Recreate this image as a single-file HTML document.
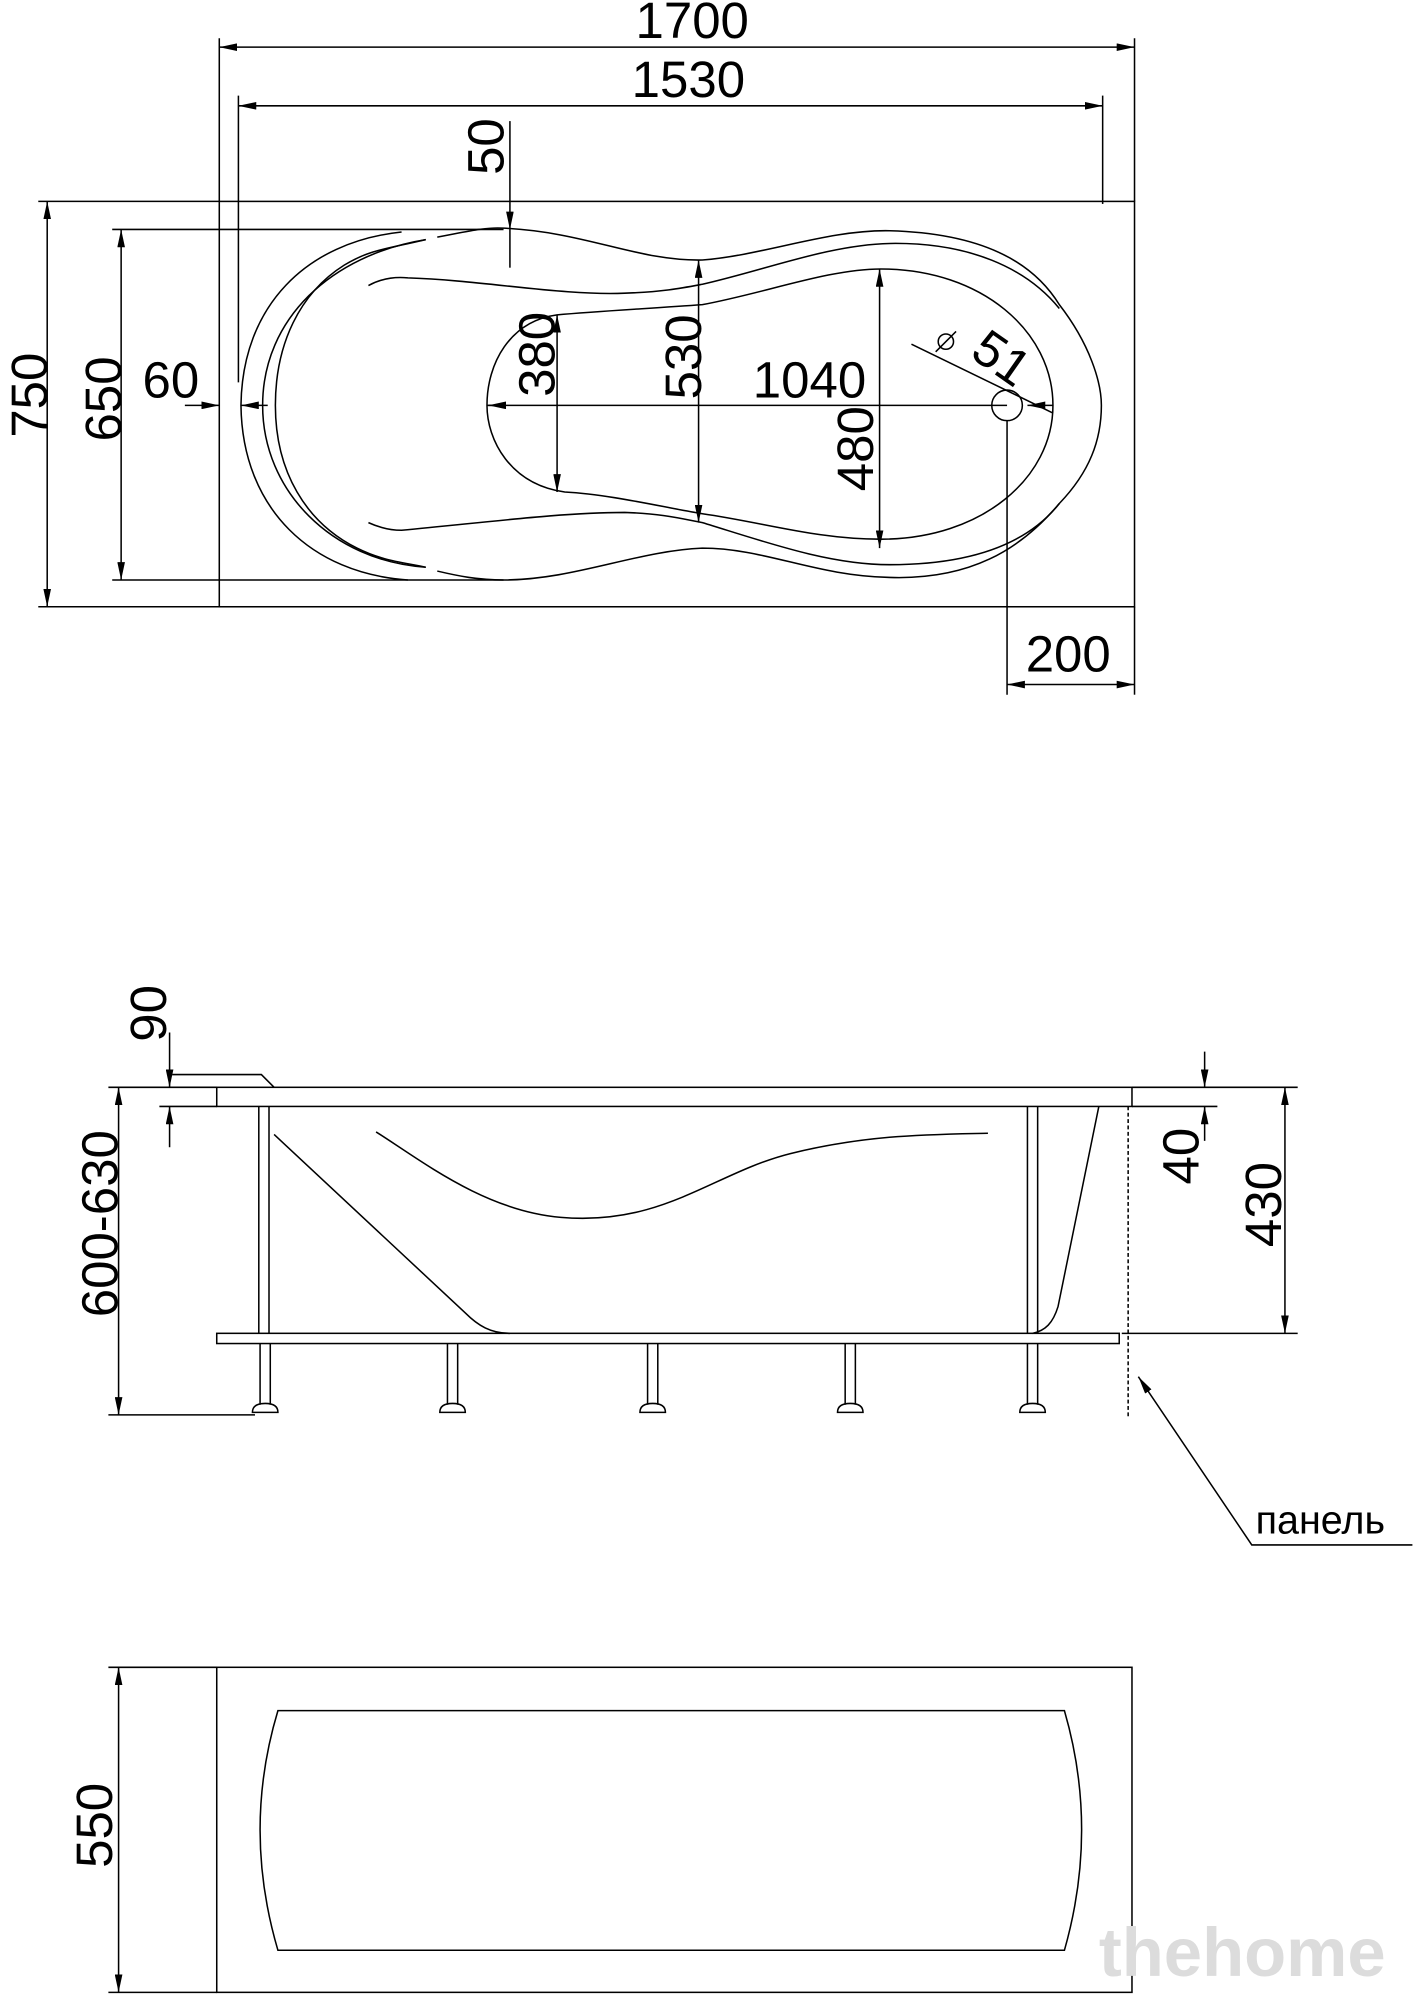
<!DOCTYPE html>
<html><head><meta charset="utf-8"><style>html,body{margin:0;padding:0;background:#fff}svg{display:block}text{font-family:"Liberation Sans",sans-serif;fill:#000}</style></head>
<body>
<svg width="1415" height="2000" viewBox="0 0 1110 1569" xmlns="http://www.w3.org/2000/svg">
<defs>
<marker id="a" viewBox="0 0 14 6" refX="14" refY="3" markerWidth="14" markerHeight="6" orient="auto-start-reverse" markerUnits="userSpaceOnUse"><path d="M0,0 L14,3 L0,6 Z" fill="#000"/></marker>
</defs>
<g stroke="#000" stroke-width="1.2" fill="none">
<rect x="172" y="158" width="718" height="318"/>
<line x1="172" y1="30" x2="172" y2="158"/><line x1="890" y1="30" x2="890" y2="158"/>
<line x1="172" y1="37" x2="890" y2="37" marker-start="url(#a)" marker-end="url(#a)"/>
<line x1="187" y1="75" x2="187" y2="300"/><line x1="865" y1="75" x2="865" y2="160"/>
<line x1="187" y1="83" x2="865" y2="83" marker-start="url(#a)" marker-end="url(#a)"/>
<line x1="30" y1="158" x2="172" y2="158"/><line x1="30" y1="476" x2="172" y2="476"/>
<line x1="37" y1="158" x2="37" y2="476" marker-start="url(#a)" marker-end="url(#a)"/>
<line x1="88" y1="180" x2="395" y2="180"/><line x1="88" y1="455" x2="395" y2="455"/>
<line x1="95" y1="180" x2="95" y2="455" marker-start="url(#a)" marker-end="url(#a)"/>
<line x1="400" y1="95" x2="400" y2="180" marker-end="url(#a)"/>
<line x1="400" y1="210" x2="400" y2="180"/>
<line x1="145" y1="318" x2="172" y2="318" marker-end="url(#a)"/>
<line x1="210" y1="318" x2="189" y2="318" marker-end="url(#a)"/>
<path d="M343,186 C365,182 380,178 395,179 C460,182 500,205 551,204 C600,200 650,180 698,181 C770,183 810,205 831,239 C855,270 864,300 864,318 C864,345 855,370 831,395 C800,432 760,455 698,453 C640,452 600,430 551,430 C500,432 450,455 395,455 C375,455 360,452 343,448"/>
<path d="M315,182 C240,190 190,240 189,318 C190,400 245,450 320,455"/>
<path d="M334,188 C260,200 206,250 206,318 C206,385 260,440 334,445"/>
<path d="M334,188 C300,196 290,196 270,208 C235,230 216,270 216,318 C216,370 240,410 280,430 C300,440 315,441 334,445"/>
<path d="M289,224 C300,218 310,217 320,218 C380,220 440,232 490,230 C520,229 535,226 551,223 C600,212 650,192 698,191 C760,190 805,210 831,242"/>
<path d="M289,410 C300,415 308,416 315,416 C380,410 440,402 490,402 C520,403 535,407 551,410 C600,425 650,443 698,443 C760,443 805,428 831,395"/>
<path d="M437,247 C470,244 510,242 551,239 C600,230 650,211 691,211 C770,211 826,260 826,318 C826,375 770,423 691,423 C640,423 600,410 551,403 C520,398 480,388 443,386 C400,380 382,345 382,318 C382,285 400,252 437,247 Z"/>
<line x1="382" y1="318" x2="790" y2="318"/>
<line x1="396" y1="318" x2="383" y2="318" marker-end="url(#a)"/>
<line x1="437" y1="247" x2="437" y2="386" marker-start="url(#a)" marker-end="url(#a)"/>
<line x1="548" y1="204" x2="548" y2="410" marker-start="url(#a)" marker-end="url(#a)"/>
<line x1="690" y1="211" x2="690" y2="430" marker-start="url(#a)" marker-end="url(#a)"/>
<circle cx="790" cy="318" r="12"/>
<line x1="715" y1="270" x2="826" y2="324"/>
<line x1="806" y1="318" x2="826" y2="318" marker-start="url(#a)"/>
<line x1="790" y1="330" x2="790" y2="545"/>
<line x1="890" y1="476" x2="890" y2="545"/>
<line x1="790" y1="537" x2="890" y2="537" marker-start="url(#a)" marker-end="url(#a)"/>
<circle cx="742" cy="268" r="6"/><line x1="734" y1="276" x2="750" y2="260"/>

<rect x="170" y="853" width="718" height="15"/>
<path d="M135,843 L205,843 L215,853"/>
<line x1="85" y1="853" x2="170" y2="853"/>
<line x1="125" y1="868" x2="170" y2="868"/>
<line x1="133" y1="810" x2="133" y2="853" marker-end="url(#a)"/>
<line x1="133" y1="900" x2="133" y2="868" marker-end="url(#a)"/>
<line x1="93" y1="853" x2="93" y2="1110" marker-start="url(#a)" marker-end="url(#a)"/>
<line x1="85" y1="1110" x2="200" y2="1110"/>
<rect x="170" y="1046" width="708" height="8"/>
<line x1="203" y1="868" x2="203" y2="1046"/><line x1="211" y1="868" x2="211" y2="1046"/>
<line x1="806" y1="868" x2="806" y2="1046"/><line x1="814" y1="868" x2="814" y2="1046"/>
<path d="M215,890 L365,1030 C375,1040 385,1046 400,1046"/>
<path d="M862,868 L830,1025 C826,1038 820,1044 810,1046"/>
<path d="M295,888 C330,910 380,950 440,955 C520,962 560,920 620,905 C680,890 730,890 775,889"/>
<g>
<line x1="204" y1="1054" x2="204" y2="1102"/><line x1="212" y1="1054" x2="212" y2="1102"/><path d="M198,1108 Q198,1101 208,1101 Q218,1101 218,1108 Z"/>
<line x1="351" y1="1054" x2="351" y2="1102"/><line x1="359" y1="1054" x2="359" y2="1102"/><path d="M345,1108 Q345,1101 355,1101 Q365,1101 365,1108 Z"/>
<line x1="508" y1="1054" x2="508" y2="1102"/><line x1="516" y1="1054" x2="516" y2="1102"/><path d="M502,1108 Q502,1101 512,1101 Q522,1101 522,1108 Z"/>
<line x1="663" y1="1054" x2="663" y2="1102"/><line x1="671" y1="1054" x2="671" y2="1102"/><path d="M657,1108 Q657,1101 667,1101 Q677,1101 677,1108 Z"/>
<line x1="806" y1="1054" x2="806" y2="1102"/><line x1="814" y1="1054" x2="814" y2="1102"/><path d="M800,1108 Q800,1101 810,1101 Q820,1101 820,1108 Z"/>
</g>
<line x1="885" y1="868" x2="885" y2="1112" stroke-dasharray="3,2"/>
<line x1="888" y1="853" x2="1018" y2="853"/><line x1="888" y1="868" x2="955" y2="868"/>
<line x1="880" y1="1046" x2="1018" y2="1046"/>
<line x1="945" y1="825" x2="945" y2="853" marker-end="url(#a)"/>
<line x1="945" y1="895" x2="945" y2="868" marker-end="url(#a)"/>
<line x1="1008" y1="853" x2="1008" y2="1046" marker-start="url(#a)" marker-end="url(#a)"/>
<path d="M1108,1212 L982,1212 L893,1080" marker-end="url(#a)"/>

<rect x="170" y="1308" width="718" height="255"/>
<line x1="85" y1="1308" x2="170" y2="1308"/><line x1="85" y1="1563" x2="170" y2="1563"/>
<line x1="93" y1="1308" x2="93" y2="1563" marker-start="url(#a)" marker-end="url(#a)"/>
<path d="M218,1342 L835,1342 Q862,1435 835,1530 L218,1530 Q190,1435 218,1342 Z"/>
</g>
<g font-size="40" text-anchor="middle">
<text x="543" y="30">1700</text>
<text x="540" y="76">1530</text>
<text transform="translate(395,115) rotate(-90)">50</text>
<text transform="translate(37,310) rotate(-90)">750</text>
<text transform="translate(95,313) rotate(-90)">650</text>
<text x="134" y="312">60</text>
<text transform="translate(435,278) rotate(-90)">380</text>
<text transform="translate(550,280) rotate(-90)">530</text>
<text x="635" y="312">1040</text>
<text transform="translate(685,352) rotate(-90)">480</text>
<text transform="translate(778,292) rotate(35)">51</text>
<text x="838" y="527">200</text>
<text transform="translate(130,795) rotate(-90)">90</text>
<text transform="translate(92,960) rotate(-90)">600-630</text>
<text transform="translate(940,907) rotate(-90)">40</text>
<text transform="translate(1005,945) rotate(-90)">430</text>
<text transform="translate(88,1432) rotate(-90)">550</text>
</g>
<text x="985" y="1203" font-size="31">панель</text>
<text x="862" y="1550" font-size="54" font-weight="bold" style="fill:#dcdcdc">thehome</text>
</svg>
</body></html>
